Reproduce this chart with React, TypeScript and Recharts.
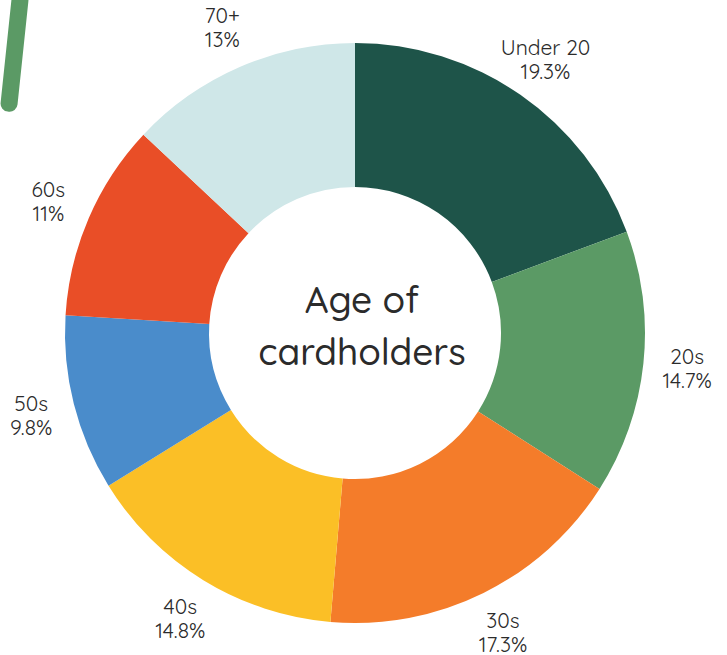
import { PieChart, Pie, Cell } from 'recharts'

const ageGroups = ['Under 20', '20s', '30s', '40s', '50s', '60s', '70+']
const shares = [19.3, 14.7, 17.3, 14.8, 9.8, 11, 13]
const shareLabels = ['19.3%', '14.7%', '17.3%', '14.8%', '9.8%', '11%', '13%']
const colors = ['#1e5449', '#5b9a65', '#f47c2a', '#fbbf26', '#4a8ccb', '#e94e27', '#cfe7e8']

const data = ageGroups.map((name, i) => ({ name, value: shares[i], pct: shareLabels[i] }))

const RAD = Math.PI / 180
const FONT = 'Quicksand, "Noto Sans", sans-serif'

function renderLabel(props: any) {
  const { cx, cy, midAngle, outerRadius, index } = props
  const r = outerRadius + 44
  const x = cx + r * Math.cos(-midAngle * RAD)
  const y = cy + r * Math.sin(-midAngle * RAD)
  return (
    <text x={x} y={y} textAnchor="middle" fill="#2b2b2b" fontSize={21} fontFamily={FONT}>
      <tspan x={x} dy={-4}>{ageGroups[index]}</tspan>
      <tspan x={x} dy={24}>{shareLabels[index]}</tspan>
    </text>
  )
}

export default function App() {
  return (
    <div style={{ position: 'absolute', left: 0, top: 0, width: 727, height: 655, background: '#fff', overflow: 'hidden' }}>
      <div
        style={{
          position: 'absolute', left: 6, top: -8, width: 17, height: 120,
          background: '#5b9a65', borderRadius: 8, transform: 'rotate(6deg)',
        }}
      />
      <PieChart width={727} height={655} margin={{ top: 0, right: 0, bottom: 0, left: 0 }} style={{ position: 'absolute', left: 0, top: 0 }}>
        <Pie
          data={data}
          dataKey="value"
          nameKey="name"
          cx={355}
          cy={333}
          innerRadius={146}
          outerRadius={290}
          startAngle={90}
          endAngle={-270}
          stroke="none"
          label={renderLabel}
          labelLine={false}
          isAnimationActive={false}
        >
          {data.map((d, i) => (
            <Cell key={d.name} fill={colors[i]} />
          ))}
        </Pie>
        <text x={362} y={313} textAnchor="middle" fill="#2b2b2b" fontSize={37} fontWeight={500} fontFamily={FONT}>
          Age of
        </text>
        <text x={362} y={365} textAnchor="middle" fill="#2b2b2b" fontSize={37} fontWeight={500} fontFamily={FONT}>
          cardholders
        </text>
      </PieChart>
    </div>
  )
}
